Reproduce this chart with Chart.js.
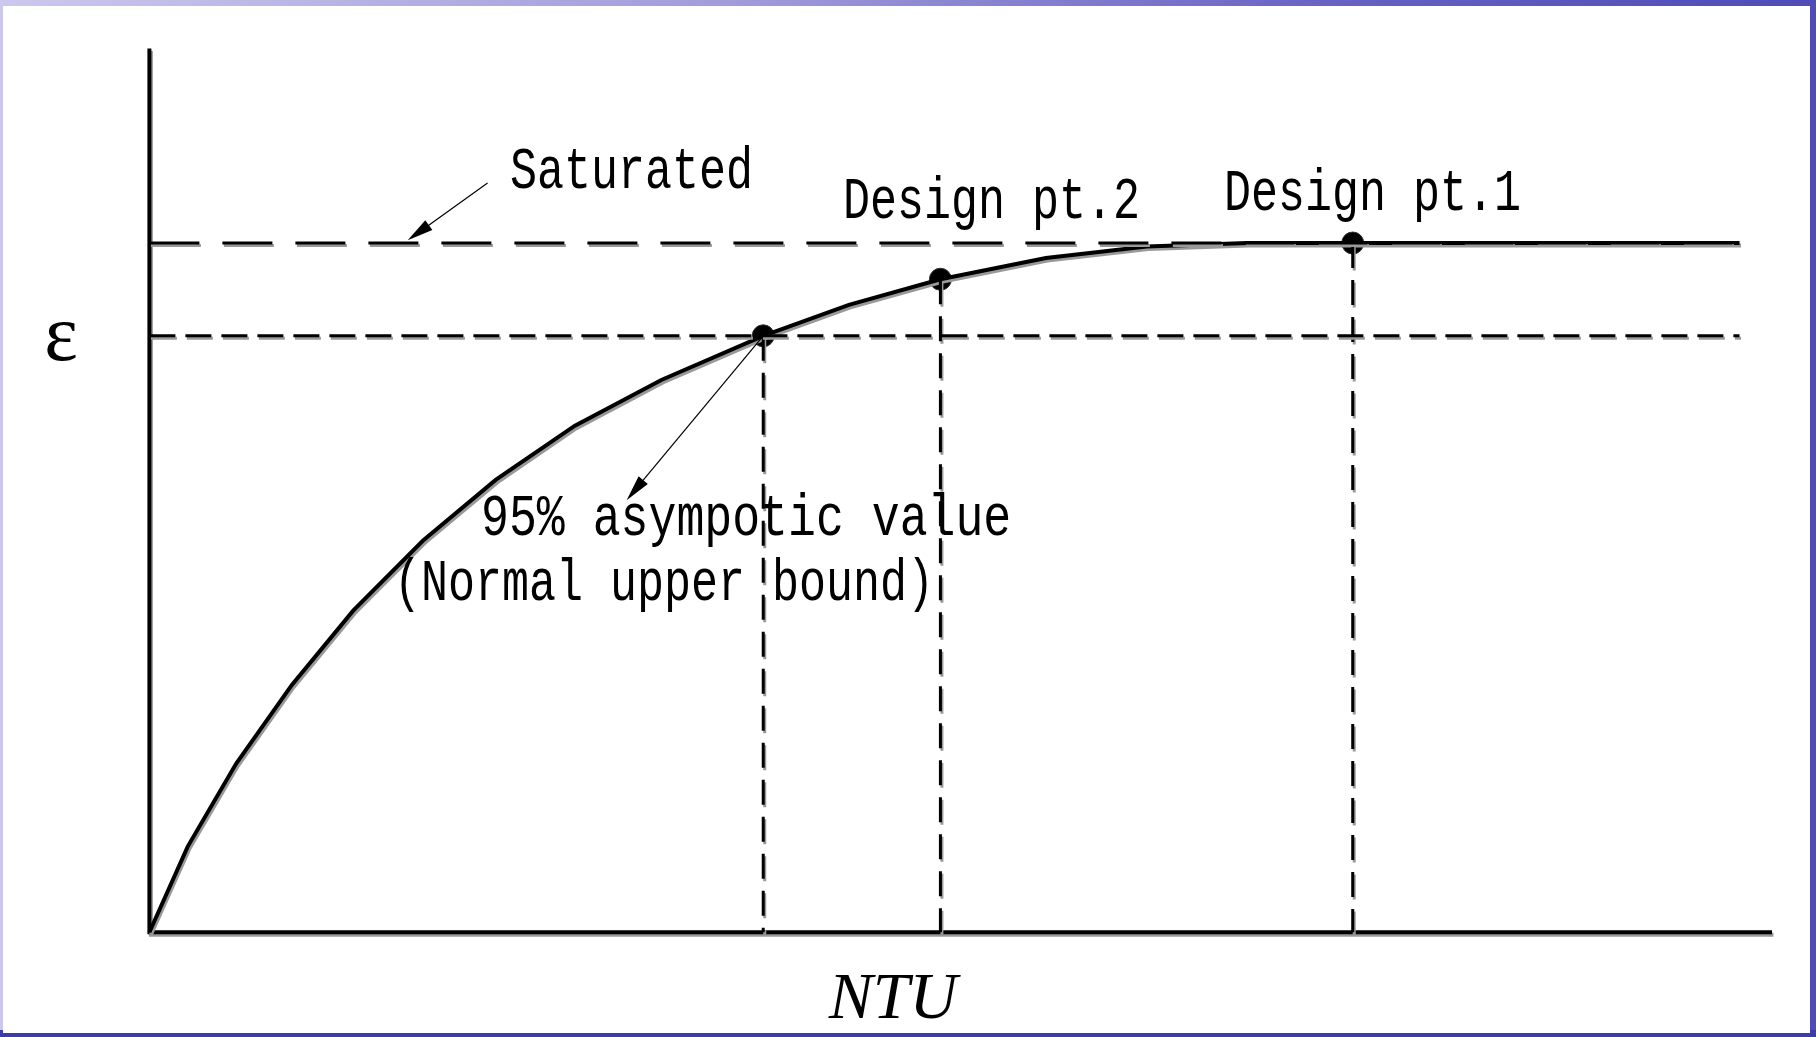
<!DOCTYPE html>
<html>
<head>
<meta charset="utf-8">
<script src="https://cdn.jsdelivr.net/npm/chart.js@4.4.0/dist/chart.umd.min.js"></script>
<style>
  html, body { margin: 0; padding: 0; }
  body {
    width: 1816px; height: 1037px; overflow: hidden; position: relative;
    background:
      linear-gradient(to bottom, transparent 1030px, #3b3ba9 1030px),
      linear-gradient(to right, #cbc7ed 0%, #a29cdb 40%, #6560c2 75%, #4f4cb8 100%);
  }
  #sheet { position: absolute; left: 3px; top: 6px; width: 1807px; height: 1027px; background: #fff; }
  canvas { display: block; }
</style>
</head>
<body>
<div id="sheet"><canvas id="chart" width="1807" height="1027"></canvas></div>
<script>
// effectiveness curve (arbitrary units: NTU 0..10, eps 0..1)
const ntu = [0, 0.236, 0.535, 0.878, 1.256, 1.685, 2.134, 2.620, 3.155, 3.783, 4.311, 4.875, 5.525, 6.146, 6.767, 7.416, 9.800];
const eff = [0, 0.097, 0.191, 0.280, 0.364, 0.443, 0.512, 0.573, 0.625, 0.675, 0.710, 0.739, 0.763, 0.776, 0.780, 0.780, 0.780];

// reference levels
const saturated = 0.780;
const bound95 = 0.675;
const xEnd = 9.8;

// marked points: 95% point, design pt.2, design pt.1
const ptNtu = [3.783, 4.875, 7.416];
const ptEff = [0.675, 0.739, 0.780];

// texts
const labels = ["Saturated", "Design pt.2", "Design pt.1", "95% asympotic value", "(Normal upper bound)"];
const yTitle = "ε";
const xTitle = "NTU";

const curve = ntu.map((x, i) => ({ x, y: eff[i] }));
const points = ptNtu.map((x, i) => ({ x, y: ptEff[i] }));

const lineDefaults = { borderColor: "#000", pointRadius: 0, fill: false, tension: 0, clip: false };

const datasets = [
  { ...lineDefaults, data: [{ x: 0, y: saturated }, { x: xEnd, y: saturated }], borderWidth: 3, borderDash: [50, 23], doubled: true },
  { ...lineDefaults, data: [{ x: 0, y: bound95 }, { x: xEnd, y: bound95 }], borderWidth: 3, borderDash: [26, 10], doubled: true }
];
points.forEach(p => {
  datasets.push({ ...lineDefaults, data: [p, { x: p.x, y: 0 }], borderWidth: 3, borderDash: [25, 12], doubled: true });
});
datasets.push({ ...lineDefaults, data: curve, borderWidth: 4, doubled: true });
datasets.push({
  type: "scatter", data: points, clip: false,
  pointRadius: 11, pointBackgroundColor: "#000", pointBorderColor: "#333", pointBorderWidth: 1
});

// grey offset copy gives the drawn lines their double-stroke look
const doubleStroke = {
  id: "doubleStroke",
  beforeDatasetDraw(chart, args) {
    if (!chart.data.datasets[args.index].doubled) return;
    const ctx = chart.ctx;
    ctx.save();
    ctx.shadowColor = "#999";
    ctx.shadowOffsetX = 1.5;
    ctx.shadowOffsetY = 2.5;
    ctx.shadowBlur = 0;
  },
  afterDatasetDraw(chart, args) {
    if (!chart.data.datasets[args.index].doubled) return;
    chart.ctx.restore();
  }
};

const axesLines = {
  id: "axesLines",
  beforeDatasetsDraw(chart) {
    const { ctx, scales: { x, y } } = chart;
    ctx.save();
    ctx.strokeStyle = "#000";
    ctx.lineWidth = 4;
    ctx.shadowColor = "#999";
    ctx.shadowOffsetX = 1.5;
    ctx.shadowOffsetY = 2.5;
    ctx.beginPath();
    ctx.moveTo(x.getPixelForValue(0), y.getPixelForValue(1));
    ctx.lineTo(x.getPixelForValue(0), y.getPixelForValue(0));
    ctx.lineTo(x.getPixelForValue(10), y.getPixelForValue(0));
    ctx.stroke();
    ctx.restore();
  }
};

function arrow(ctx, x1, y1, x2, y2) {
  const a = Math.atan2(y2 - y1, x2 - x1);
  const len = 26, half = 6;
  ctx.beginPath();
  ctx.moveTo(x1, y1);
  ctx.lineTo(x2 - Math.cos(a) * len * 0.6, y2 - Math.sin(a) * len * 0.6);
  ctx.lineWidth = 1.2;
  ctx.stroke();
  ctx.beginPath();
  ctx.moveTo(x2, y2);
  ctx.lineTo(x2 - Math.cos(a) * len - Math.sin(a) * half, y2 - Math.sin(a) * len + Math.cos(a) * half);
  ctx.lineTo(x2 - Math.cos(a) * len + Math.sin(a) * half, y2 - Math.sin(a) * len - Math.cos(a) * half);
  ctx.closePath();
  ctx.fill();
}

// where the notes sit, in data units
const notePos = [[2.222, 0.842], [4.275, 0.808], [6.623, 0.817], [2.044, 0.450], [1.507, 0.376]];

const notes = {
  id: "notes",
  afterDatasetsDraw(chart) {
    const { ctx, scales: { x, y } } = chart;
    ctx.save();
    ctx.fillStyle = "#000";
    ctx.strokeStyle = "#000";

    arrow(ctx, x.getPixelForValue(2.084), y.getPixelForValue(0.848), x.getPixelForValue(1.592), y.getPixelForValue(0.783));
    arrow(ctx, x.getPixelForValue(ptNtu[0]), y.getPixelForValue(ptEff[0]), x.getPixelForValue(2.941), y.getPixelForValue(0.489));

    ctx.font = '60px "Liberation Mono"';
    ctx.textBaseline = "alphabetic";
    ctx.textAlign = "left";
    labels.forEach((t, i) => {
      ctx.save();
      ctx.translate(x.getPixelForValue(notePos[i][0]), y.getPixelForValue(notePos[i][1]));
      ctx.scale(i === 3 ? 0.775 : 0.75, 1);
      ctx.fillText(t, 0, 0);
      ctx.restore();
    });

    ctx.textAlign = "center";
    ctx.font = '80px "Liberation Serif"';
    ctx.fillText(yTitle, x.getPixelForValue(-0.545), y.getPixelForValue(0.648));
    ctx.font = 'italic 66px "Liberation Serif"';
    ctx.fillText(xTitle, x.getPixelForValue(4.582), y.getPixelForValue(-0.097));
    ctx.restore();
  }
};

new Chart(document.getElementById("chart"), {
  type: "line",
  data: { datasets },
  options: {
    responsive: false,
    animation: false,
    devicePixelRatio: 1,
    layout: { padding: { left: 146.4, top: 42.6, right: 38, bottom: 100.7 } },
    plugins: { legend: { display: false }, tooltip: { enabled: false } },
    scales: {
      x: { type: "linear", min: 0, max: 10, display: false },
      y: { type: "linear", min: 0, max: 1, display: false }
    }
  },
  plugins: [doubleStroke, axesLines, notes]
});
</script>
</body>
</html>
